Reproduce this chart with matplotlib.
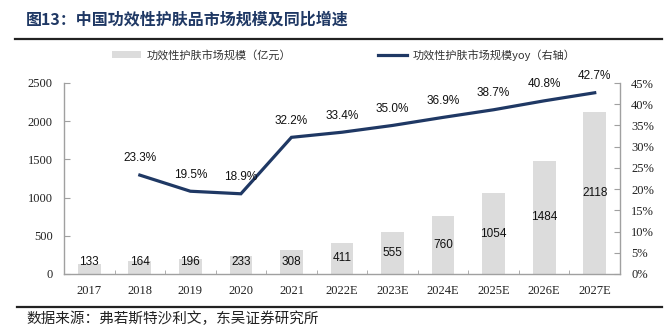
import matplotlib.pyplot as plt
from matplotlib.lines import Line2D
from matplotlib.patches import Patch
import numpy as np

plt.rcParams["font.family"] = ["Noto Sans CJK SC", "DejaVu Sans"]

years = ["2017", "2018", "2019", "2020", "2021", "2022E", "2023E",
         "2024E", "2025E", "2026E", "2027E"]
market_size = [133, 164, 196, 233, 308, 411, 555, 760, 1054, 1484, 2118]
yoy_years = years[1:]
yoy_pct = [23.3, 19.5, 18.9, 32.2, 33.4, 35.0, 36.9, 38.7, 40.8, 42.7]

title = "图13：中国功效性护肤品市场规模及同比增速"
bar_label = "功效性护肤市场规模（亿元）"
line_label = "功效性护肤市场规模yoy（右轴）"
source = "数据来源：弗若斯特沙利文，东吴证券研究所"

navy = "#1F3864"
bar_gray = "#DCDCDC"
axis_gray = "#A0A0A0"
serif = "Liberation Serif"
sans = "Liberation Sans"

fig = plt.figure(figsize=(6.67, 3.27), dpi=100)
ax = fig.add_axes([64 / 667, 53 / 327, 556 / 667, 191 / 327])
ax2 = ax.twinx()

x = np.arange(len(years))
ax.bar(x, market_size, width=0.45, color=bar_gray, zorder=2)
for xi, v in zip(x, market_size):
    ax.text(xi, max(v / 2, 156), str(v), ha="center", va="center",
            fontsize=8.5, family=sans, color="#111111", zorder=4)

xl = np.array([years.index(y) for y in yoy_years])
ax2.plot(xl, yoy_pct, color=navy, lw=2.3, solid_joinstyle="miter", zorder=3)
for xi, p in zip(xl, yoy_pct):
    ax2.annotate(f"{p:.1f}%", (xi, p), xytext=(0, 12), textcoords="offset points",
                 ha="center", va="center", fontsize=8.5, family=sans, color="#111111")

ax.set_xlim(-0.5, len(years) - 0.5)
ax.set_ylim(0, 2500)
ax.set_yticks(np.arange(0, 2501, 500))
ax2.set_ylim(0, 45)
ax2.set_yticks(np.arange(0, 46, 5))
ax2.set_yticklabels([f"{t}%" for t in range(0, 46, 5)])

ax.set_xticks(x)
ax.set_xticklabels(years)
ax.set_xticks(np.arange(-0.5, len(years)), minor=True)
ax.tick_params(axis="x", which="major", length=0, pad=8)
ax.tick_params(axis="x", which="minor", direction="in", length=3, color=axis_gray)
ax.tick_params(axis="y", direction="in", length=4, color=axis_gray, pad=8)
ax2.tick_params(axis="y", direction="in", length=4, color=axis_gray, pad=8)

for a in (ax, ax2):
    for lab in a.get_xticklabels() + a.get_yticklabels():
        lab.set_family(serif)
        lab.set_fontsize(9)
        lab.set_color("#222222")
    a.spines["top"].set_visible(False)
    for s in ("left", "right", "bottom"):
        a.spines[s].set_color(axis_gray)
        a.spines[s].set_linewidth(1.0)
ax.spines["right"].set_visible(False)
ax2.spines["left"].set_visible(False)
ax2.spines["bottom"].set_visible(False)

# legends sit above the plot, one per series
leg_kw = dict(loc="center left", frameon=False, fontsize=8, handlelength=2.6,
              handletextpad=0.5, borderpad=0, borderaxespad=0)
leg1 = fig.legend(handles=[Patch(facecolor=bar_gray, edgecolor="none", label=bar_label)],
                  bbox_to_anchor=(112 / 667, 1 - 55 / 327), handleheight=0.65, **leg_kw)
leg2 = fig.legend(handles=[Line2D([], [], color=navy, lw=2.3, label=line_label)],
                  bbox_to_anchor=(378 / 667, 1 - 55 / 327), **leg_kw)
for leg in (leg1, leg2):
    for t in leg.get_texts():
        t.set_color("#333333")

fig.text(26 / 667, 1 - 19 / 327, title, fontsize=11.5, fontweight="bold",
         color=navy, va="center", ha="left")
fig.add_artist(Line2D([15 / 667, 662 / 667], [1 - 39 / 327] * 2,
                      color="#222222", lw=1.6))
fig.add_artist(Line2D([17 / 667, 662 / 667], [1 - 307 / 327] * 2,
                      color="#222222", lw=1.6))
fig.text(26 / 667, 1 - 319 / 327, source, fontsize=10.5, color="#222222",
         va="center", ha="left")

fig.savefig("out.png", dpi=100, facecolor="white")
